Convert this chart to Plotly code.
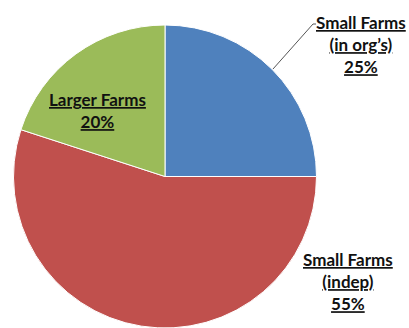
import plotly.graph_objects as go

W, H = 409, 328

categories = ["Small Farms (in org's)", "Small Farms (indep)", "Larger Farms"]
values = [25, 55, 20]
label_lines = [["Small Farms", "(in org’s)"], ["Small Farms", "(indep)"], ["Larger Farms"]]
colors = ["#4F81BD", "#C0504D", "#9BBB59"]

# label centers in pixels (x, y of block center)
label_pos = [(361, 44), (348, 281), (97, 110)]

fig = go.Figure(go.Pie(
    labels=categories,
    values=values,
    sort=False,
    direction="clockwise",
    rotation=0,
    marker=dict(colors=colors, line=dict(color="white", width=1)),
    textinfo="none",
    hoverinfo="label+percent",
    showlegend=False,
    domain=dict(x=[13 / W, 317 / W], y=[0, 1 - 25 / H]),
))

total = sum(values)
for lines, v, (px, py) in zip(label_lines, values, label_pos):
    txt = "<br>".join(f"<u>{l}</u>" for l in lines + [f"{round(100 * v / total)}%"])
    fig.add_annotation(
        x=px / W, y=1 - py / H, xref="paper", yref="paper",
        text=f"<b>{txt}</b>", showarrow=False,
        xanchor="center", yanchor="middle", align="center",
        font=dict(family="Lato, Open Sans, sans-serif", size=17, color="#111111"),
    )

# leader line for the first label
fig.add_shape(type="line", xref="paper", yref="paper",
              x0=273 / W, y0=1 - 69 / H, x1=313 / W, y1=1 - 24 / H,
              line=dict(color="#555555", width=1))
fig.add_shape(type="line", xref="paper", yref="paper",
              x0=313 / W, y0=1 - 24 / H, x1=316 / W, y1=1 - 24 / H,
              line=dict(color="#555555", width=1))

fig.update_layout(
    width=W, height=H,
    margin=dict(l=0, r=0, t=0, b=0),
    paper_bgcolor="white", plot_bgcolor="white",
)

fig.write_html("out.html")
